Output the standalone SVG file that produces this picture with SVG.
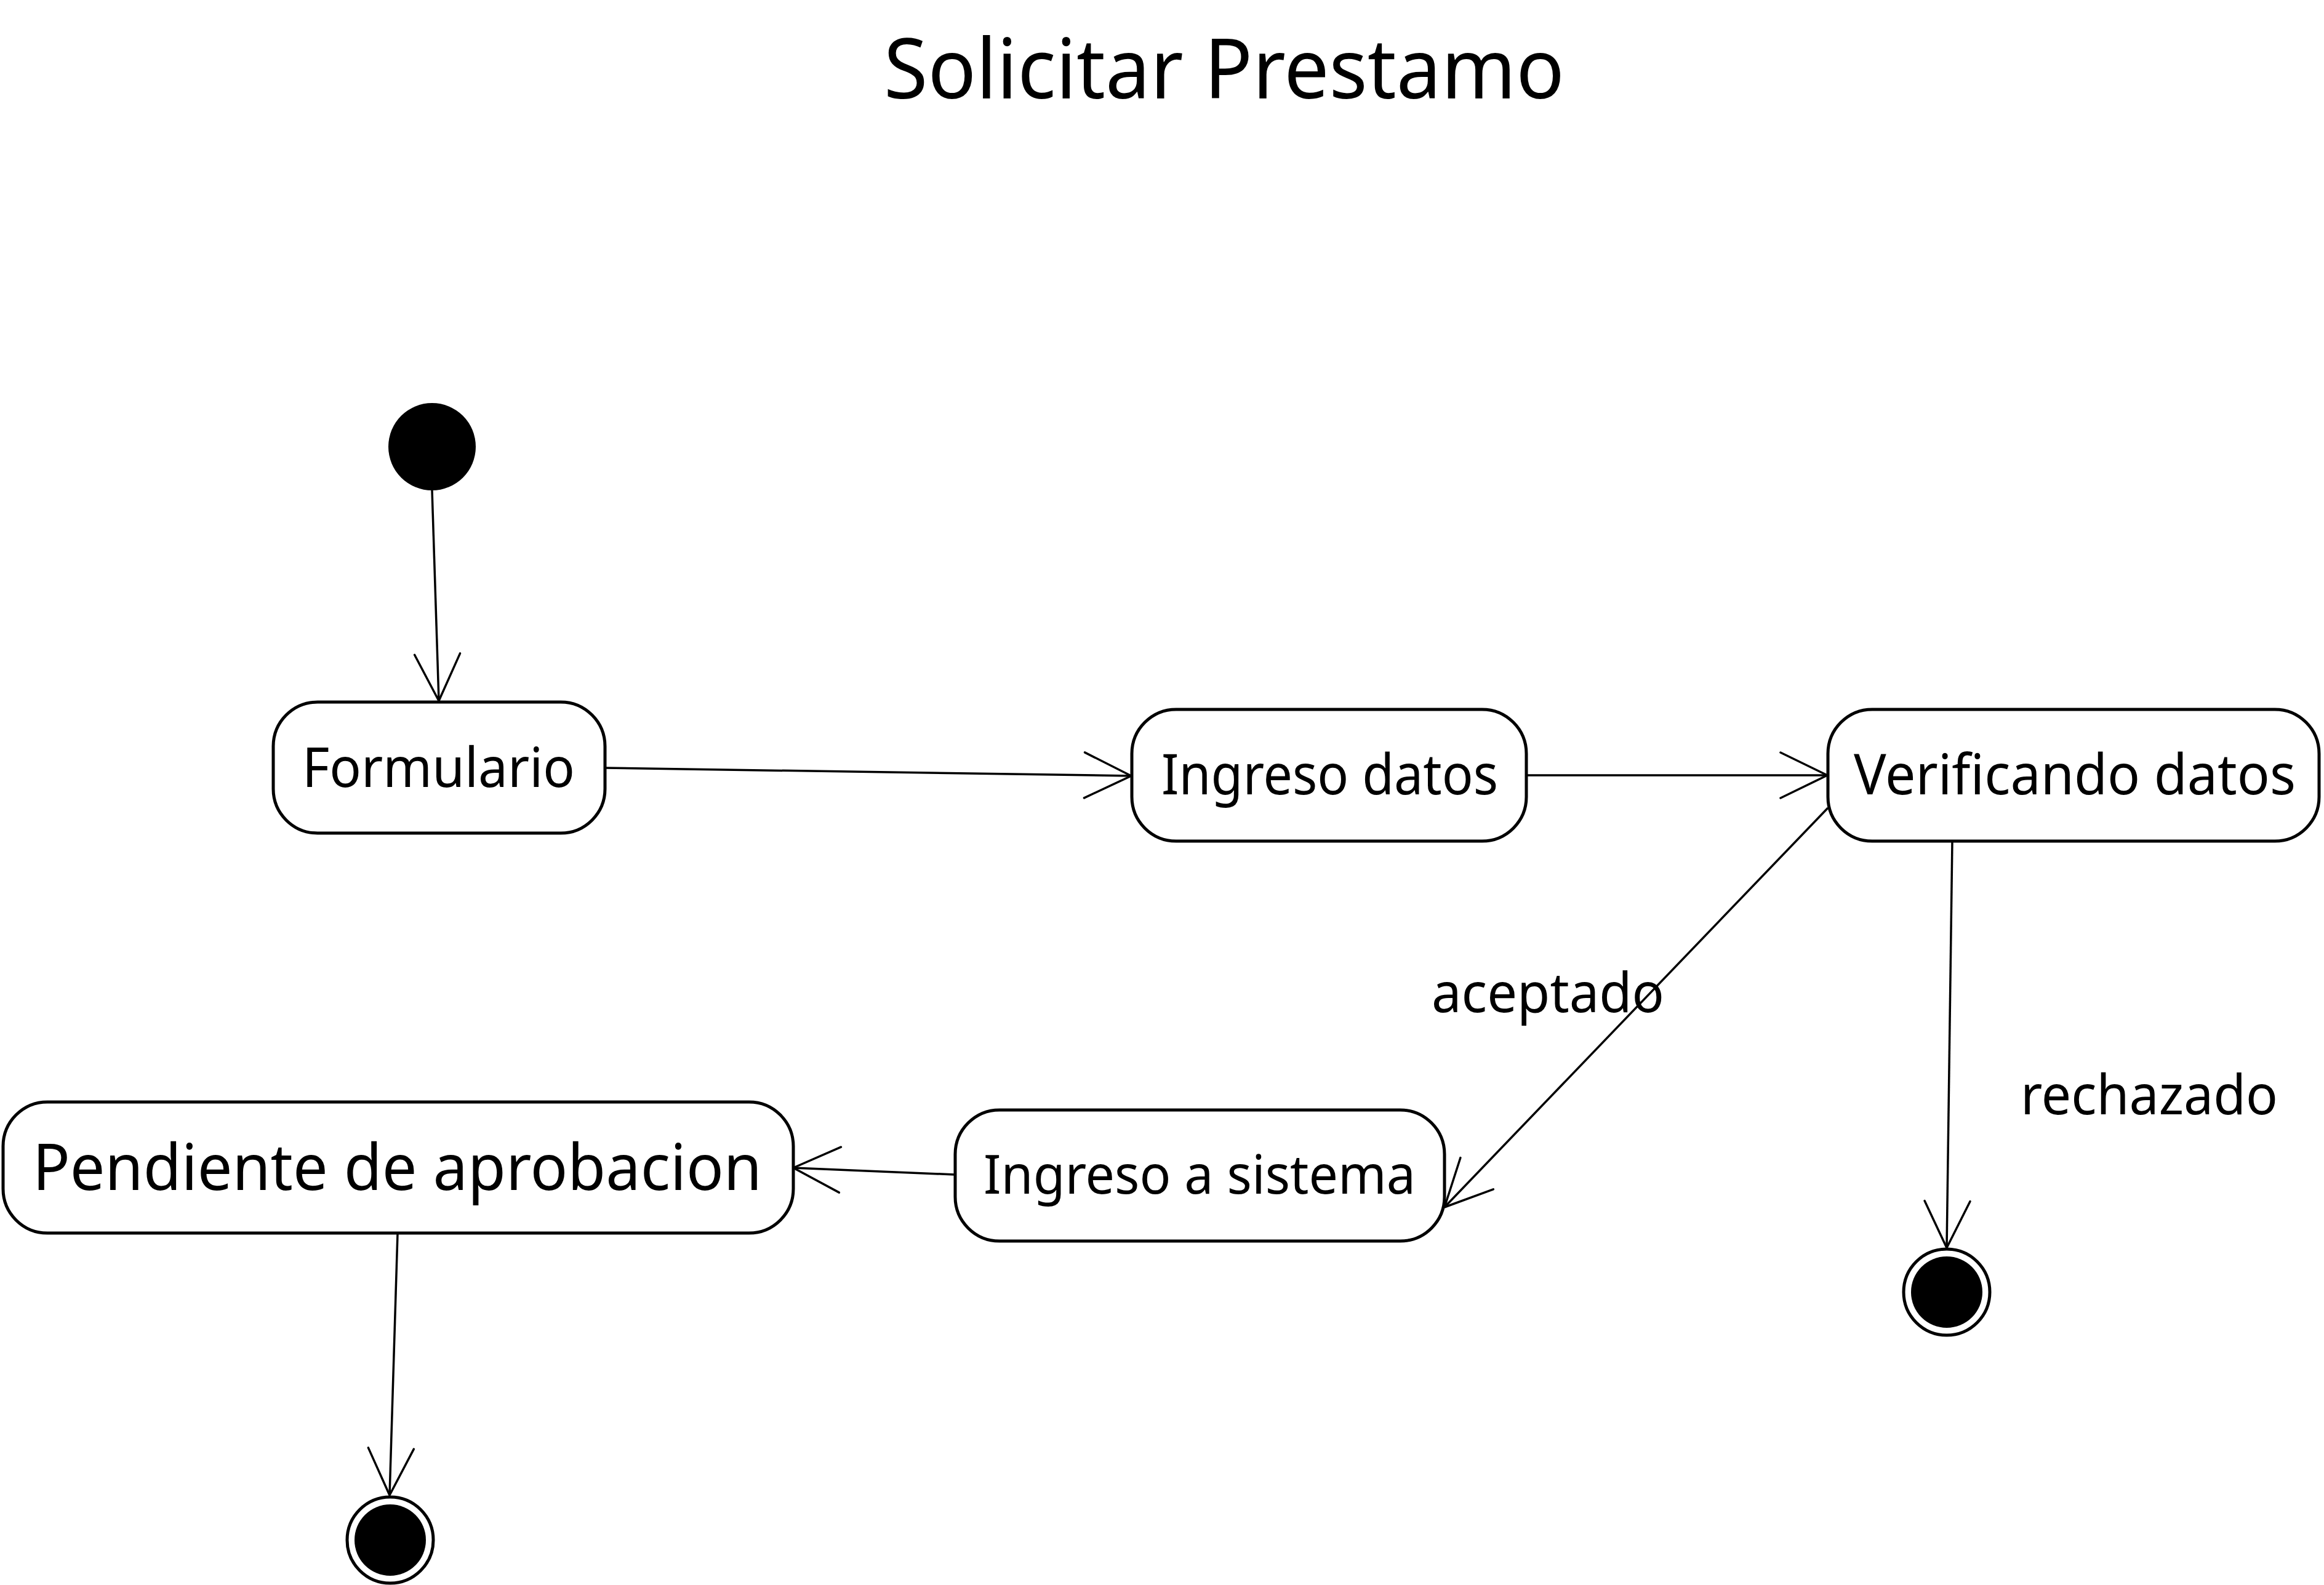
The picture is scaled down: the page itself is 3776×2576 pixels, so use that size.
<svg xmlns="http://www.w3.org/2000/svg" width="3776" height="2576" viewBox="0 0 3776 2576">
<defs>
<style>
.box{fill:#fff;stroke:#000;stroke-width:5}
.lbl{font-family:"Noto Sans","Open Sans",sans-serif;fill:#000}
.conn{stroke:#000;stroke-width:3.5;fill:none}
</style>
<marker id="arr" markerUnits="userSpaceOnUse" markerWidth="200" markerHeight="200" viewBox="-100 -100 200 200" refX="0" refY="0" orient="auto">
<path d="M -76 -37 L 0 0 L -76 37" fill="none" stroke="#000" stroke-width="3.5" stroke-linecap="round" stroke-linejoin="round"/>
</marker>
</defs>
<rect width="3776" height="2576" fill="#fff"/>
<text class="lbl" x="1436" y="160" font-size="136" textLength="1106" lengthAdjust="spacingAndGlyphs">Solicitar Prestamo</text>

<g id="connectors">
<line class="conn" x1="702" y1="797" x2="713" y2="1139" marker-end="url(#arr)"/>
<line class="conn" x1="983" y1="1248" x2="1838" y2="1261" marker-end="url(#arr)"/>
<line class="conn" x1="2480" y1="1260" x2="2969" y2="1260" marker-end="url(#arr)"/>
<line class="conn" x1="2970" y1="1313" x2="2347" y2="1962" marker-end="url(#arr)"/>
<line class="conn" x1="1551" y1="1909" x2="1289" y2="1898" marker-end="url(#arr)"/>
<line class="conn" x1="3172" y1="1367" x2="3163" y2="2028" marker-end="url(#arr)"/>
<line class="conn" x1="646" y1="2005" x2="633" y2="2430" marker-end="url(#arr)"/>
</g>

<g id="start">
<circle cx="702" cy="726" r="71" fill="#000"/>
</g>

<g id="formulario">
<rect class="box" x="444" y="1141" width="539" height="213" rx="72" ry="72"/>
<text class="lbl" x="491" y="1279" font-size="89" textLength="443" lengthAdjust="spacingAndGlyphs">Formulario</text>
</g>

<g id="ingreso-datos">
<rect class="box" x="1839" y="1153" width="641" height="214" rx="72" ry="72"/>
<text class="lbl" x="1887" y="1291" font-size="91" textLength="547" lengthAdjust="spacingAndGlyphs">Ingreso datos</text>
</g>

<g id="verificando-datos">
<rect class="box" x="2970" y="1153" width="798" height="214" rx="72" ry="72"/>
<text class="lbl" x="3012" y="1291" font-size="91" textLength="718" lengthAdjust="spacingAndGlyphs">Verificando datos</text>
</g>

<g id="ingreso-sistema">
<rect class="box" x="1552" y="1804" width="795" height="213" rx="72" ry="72"/>
<text class="lbl" x="1598" y="1940" font-size="88" textLength="702" lengthAdjust="spacingAndGlyphs">Ingreso a sistema</text>
</g>

<g id="pendiente">
<rect class="box" x="5" y="1791" width="1284" height="213" rx="72" ry="72"/>
<text class="lbl" x="53" y="1934" font-size="104" textLength="1185" lengthAdjust="spacingAndGlyphs">Pendiente de aprobacion</text>
</g>

<g id="label-aceptado">
<text class="lbl" x="2326" y="1645" font-size="89" textLength="378" lengthAdjust="spacingAndGlyphs">aceptado</text>
</g>
<g id="label-rechazado">
<text class="lbl" x="3283" y="1811" font-size="89" textLength="418" lengthAdjust="spacingAndGlyphs">rechazado</text>
</g>

<g id="end-rechazado">
<circle cx="3163" cy="2100" r="70" fill="#fff" stroke="#000" stroke-width="5"/>
<circle cx="3163" cy="2100" r="58" fill="#000"/>
</g>

<g id="end-final">
<circle cx="634" cy="2503" r="70" fill="#fff" stroke="#000" stroke-width="5"/>
<circle cx="634" cy="2503" r="58" fill="#000"/>
</g>
</svg>
